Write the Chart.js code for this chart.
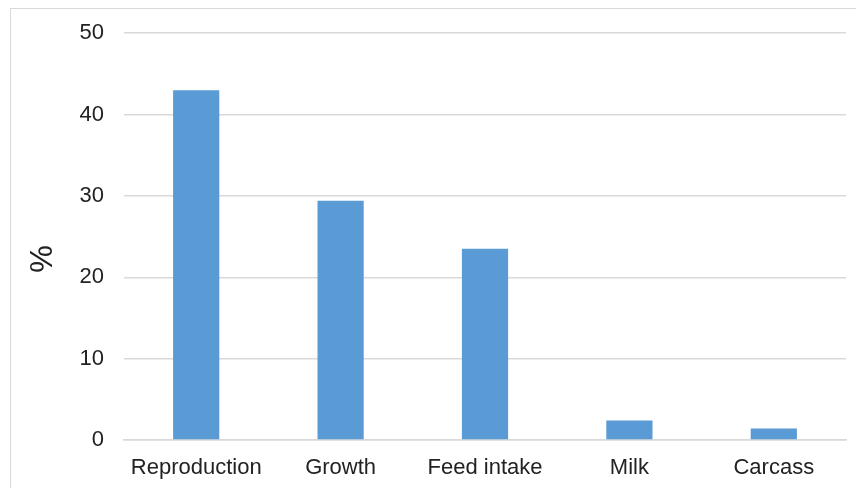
<!DOCTYPE html>
<html>
<head>
<meta charset="utf-8">
<script src="https://cdn.jsdelivr.net/npm/chart.js@4/dist/chart.umd.min.js"></script>
<style>
  html, body { margin: 0; padding: 0; background: #fff; }
  #wrap { position: relative; width: 856px; height: 488px; overflow: hidden; }
  #frame { position: absolute; left: 10px; top: 8px; width: 900px; height: 520px;
           border-left: 1.5px solid #d9d9d9; border-top: 1.5px solid #d9d9d9; box-sizing: border-box; }
  canvas { position: absolute; left: 0; top: 0; }
</style>
</head>
<body>
<div id="wrap">
  <div id="frame"></div>
  <canvas id="c" width="856" height="488"></canvas>
</div>
<script>
const categories = ['Reproduction', 'Growth', 'Feed intake', 'Milk', 'Carcass'];
const shares = [43, 29.4, 23.5, 2.4, 1.4];
const yTicks = [0, 10, 20, 30, 40, 50];
const yAxisTitle = '%';

const font = "'Liberation Sans', Arial, sans-serif";
const grid = '#d9d9d9';

// Rotated y-axis title, placed a little below the middle of the axis
const axisTitle = {
  id: 'axisTitle',
  afterDraw(chart) {
    const { ctx } = chart;
    ctx.save();
    ctx.translate(43, 259);
    ctx.rotate(-Math.PI / 2);
    ctx.font = `31px ${font}`;
    ctx.fillStyle = '#222';
    ctx.textAlign = 'center';
    ctx.textBaseline = 'middle';
    ctx.fillText(yAxisTitle, 0, 0);
    ctx.restore();
  }
};

new Chart(document.getElementById('c'), {
  type: 'bar',
  data: {
    labels: categories,
    datasets: [{
      data: shares,
      backgroundColor: '#5b9bd5',
      borderWidth: 0,
      barPercentage: 0.32,
      categoryPercentage: 1
    }]
  },
  options: {
    responsive: false,
    animation: false,
    devicePixelRatio: 1,
    layout: { padding: { left: 0, right: 10, top: 20, bottom: 0 } },
    plugins: { legend: { display: false }, tooltip: { enabled: false } },
    scales: {
      x: {
        grid: { display: false, drawTicks: false },
        border: { display: true, color: grid, width: 1.5 },
        ticks: { color: '#222', font: { family: font, size: 22 }, padding: 15 },
        afterFit(s) { s.height = 48; }
      },
      y: {
        min: 0, max: 50,
        afterBuildTicks(s) { s.ticks = yTicks.map(v => ({ value: v })); },
        grid: { color: grid, lineWidth: 1.5, drawTicks: false },
        border: { display: false },
        ticks: { color: '#222', font: { family: font, size: 22 }, padding: 20 },
        afterFit(s) { s.width = 124; }
      }
    }
  },
  plugins: [axisTitle]
});
</script>
</body>
</html>
